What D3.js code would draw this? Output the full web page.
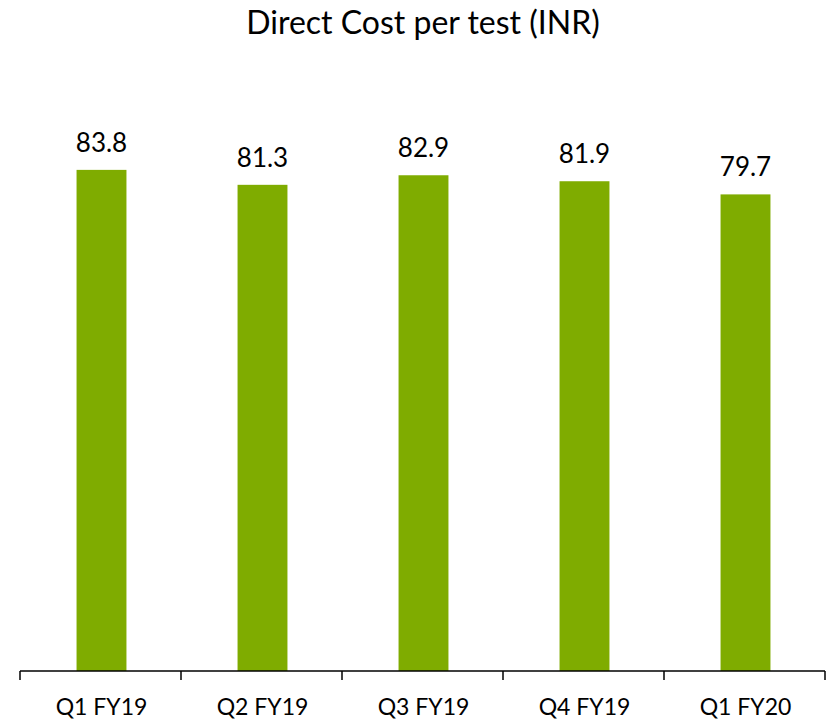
<!DOCTYPE html>
<html>
<head>
<meta charset="utf-8">
<script src="https://cdn.jsdelivr.net/npm/d3@7"></script>
<style>
  body { margin: 0; background: #fff; }
  text { font-family: Lato, "Open Sans", sans-serif; fill: #000; }
</style>
</head>
<body>
<div id="chart"></div>
<script>
"use strict";

// values
var quarters = ["Q1 FY19", "Q2 FY19", "Q3 FY19", "Q4 FY19", "Q1 FY20"];
var costs = [83.8, 81.3, 82.9, 81.9, 79.7];
var title = "Direct Cost per test (INR)";

var width = 830, height = 724;
var margin = { left: 20, right: 5, bottom: 53 };
var baseY = height - margin.bottom; // axis line

var svg = d3.select("#chart")
	.append("svg")
	.attr("width", width)
	.attr("height", height);

var x = d3.scaleBand()
	.domain(quarters)
	.range([margin.left, width - margin.right])
	.paddingInner(0.69)
	.paddingOuter(0.345);

// about 5.98px per unit
var y = d3.scaleLinear()
	.domain([0, 90])
	.range([baseY, baseY - 90 * 5.98]);

svg.append("text")
	.attr("x", width / 2 + 8)
	.attr("y", 34)
	.attr("text-anchor", "middle")
	.style("font-size", "32px")
	.text(title);

svg.selectAll("rect.bar")
	.data(costs)
	.enter().append("rect")
	.attr("class", "bar")
	.attr("x", function (d, i) { return x(quarters[i]) + 1; })
	.attr("y", function (d) { return y(d); })
	.attr("width", x.bandwidth())
	.attr("height", function (d) { return baseY - y(d); })
	.style("fill", "#7fac00");

svg.selectAll("text.val")
	.data(costs)
	.enter().append("text")
	.attr("class", "val")
	.attr("x", function (d, i) { return x(quarters[i]) + x.bandwidth() / 2 + 1; })
	.attr("y", function (d) { return y(d) - 18; })
	.attr("text-anchor", "middle")
	.style("font-size", "26px")
	.text(function (d) { return d.toFixed(1); });

// category axis: ticks sit on the band edges, like Excel
var axis = svg.append("g");
axis.append("line")
	.attr("x1", margin.left).attr("x2", width - margin.right)
	.attr("y1", baseY).attr("y2", baseY)
	.style("stroke", "#000").style("stroke-width", 1.5);

var step = x.step();
var edges = d3.range(quarters.length + 1).map(function (i) { return margin.left + i * step; });
axis.selectAll("line.tick")
	.data(edges)
	.enter().append("line")
	.attr("class", "tick")
	.attr("x1", function (d) { return d; }).attr("x2", function (d) { return d; })
	.attr("y1", baseY).attr("y2", baseY + 9)
	.style("stroke", "#000").style("stroke-width", 1.5);

axis.selectAll("text.cat")
	.data(quarters)
	.enter().append("text")
	.attr("class", "cat")
	.attr("x", function (d) { return x(d) + x.bandwidth() / 2 + 1; })
	.attr("y", baseY + 44)
	.attr("text-anchor", "middle")
	.style("font-size", "23px")
	.text(function (d) { return d; });
</script>
</body>
</html>
